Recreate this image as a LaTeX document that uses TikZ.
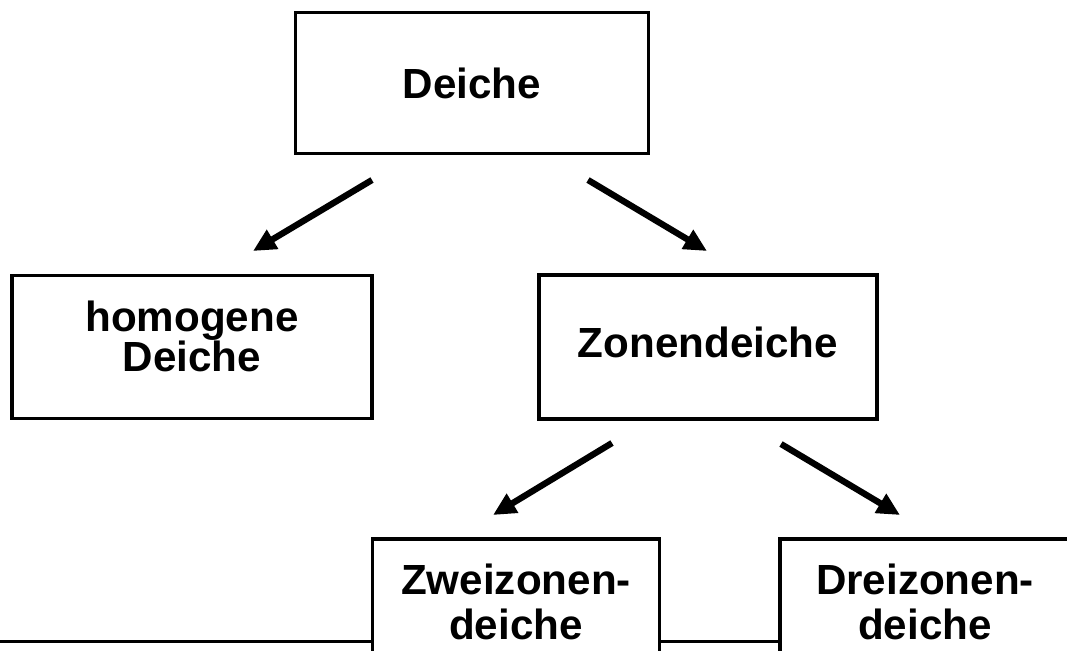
\documentclass[tikz,border=0pt]{standalone}
\usepackage{fontspec}
\setmainfont{Liberation Sans}
\usetikzlibrary{arrows.meta}

\tikzset{
  kasten/.style={draw, line width=2pt, align=center, inner sep=0pt,
    font=\bfseries\fontsize{24}{23}\selectfont},
  pfeil/.style={-{Triangle[length=13pt, width=12pt]}, line width=3.6pt}
}

\begin{document}
\begin{tikzpicture}[x=0.02cm, y=-0.02cm]
    \useasboundingbox (0,0) rectangle (1067,650);
    % Kaesten
    \node[kasten, minimum width=7.06cm, minimum height=2.82cm] (deiche) at (472,83) {Deiche};
    \node[kasten, minimum width=7.2cm, minimum height=2.86cm, text depth=12pt] (homogen) at (192,347) {homogene\\Deiche};
    \node[kasten, minimum width=6.76cm, minimum height=2.88cm, text depth=6pt] (zonen) at (708,347) {Zonendeiche};
    \node[kasten, minimum width=5.74cm, minimum height=2.52cm,
      font=\bfseries\fontsize{24}{26}\selectfont] (zwei) at (516,602) {Zweizonen-\\deiche};
    \node[kasten, minimum width=5.8cm, minimum height=2.52cm,
      font=\bfseries\fontsize{24}{26}\selectfont] (drei) at (925,602) {Dreizonen-\\deiche};
    % Pfeile
    \coordinate (p1a) at (372,180); \coordinate (p1b) at (253,251);
    \coordinate (p2a) at (588,180); \coordinate (p2b) at (707,251);
    \coordinate (p3a) at (612,443); \coordinate (p3b) at (493,515);
    \coordinate (p4a) at (781,444); \coordinate (p4b) at (900,515);
    \draw[pfeil] (p1a) -- (p1b);
    \draw[pfeil] (p2a) -- (p2b);
    \draw[pfeil] (p3a) -- (p3b);
    \draw[pfeil] (p4a) -- (p4b);
    % Linie unten
    \coordinate (rand) at (0,641);
    \draw[line width=1.7pt] (rand) -- (rand -| zwei.west);
    \draw[line width=1.7pt] (zwei.east |- rand) -- (drei.west |- rand);
\end{tikzpicture}
\end{document}
